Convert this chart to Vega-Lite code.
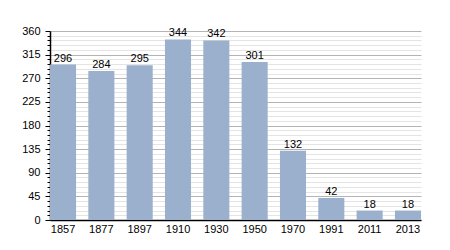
{
  "$schema": "https://vega.github.io/schema/vega-lite/v6.json",
  "autosize": {"type": "none"},
  "padding": {"left": 50, "top": 31, "right": 29, "bottom": 30},
  "width": 371,
  "height": 189,
  "background": "white",
  "data": {"values": [
    {"year": "1857", "pop": 296},
    {"year": "1877", "pop": 284},
    {"year": "1897", "pop": 295},
    {"year": "1910", "pop": 344},
    {"year": "1930", "pop": 342},
    {"year": "1950", "pop": 301},
    {"year": "1970", "pop": 132},
    {"year": "1991", "pop": 42},
    {"year": "2011", "pop": 18},
    {"year": "2013", "pop": 18}
  ]},
  "config": {
    "view": {"stroke": null},
    "font": "Liberation Sans",
    "axis": {"labelFont": "Liberation Sans", "labelFontSize": 11, "labelColor": "#000"}
  },
  "encoding": {
    "x": {
      "field": "year", "type": "ordinal", "sort": null,
      "scale": {"paddingInner": 0.32, "paddingOuter": 0},
      "axis": {"title": null, "labelAngle": 0, "ticks": false, "labelPadding": 3, "domainColor": "#000", "domainWidth": 1.5}
    },
    "y": {
      "field": "pop", "type": "quantitative",
      "scale": {"domain": [0, 360], "nice": false},
      "axis": {
        "title": null,
        "values": [0,9,18,27,36,45,54,63,72,81,90,99,108,117,126,135,144,153,162,171,180,189,198,207,216,225,234,243,252,261,270,279,288,297,306,315,324,333,342,351,360],
        "labelExpr": "datum.value % 45 === 0 ? datum.label : ''",
        "grid": true,
        "gridColor": {"condition": {"test": "datum.value % 45 === 0", "value": "#b4b4b4"}, "value": "#e4e4e4"},
        "tickSize": {"condition": {"test": "datum.value % 45 === 0", "value": 5}, "value": 3},
        "tickColor": "#000",
        "domainColor": "#000",
        "domainWidth": 1.5,
        "labelPadding": 5
      }
    }
  },
  "layer": [
    {"mark": {"type": "bar", "color": "#9ab0cc"}},
    {"mark": {"type": "text", "dy": -6, "fontSize": 11, "color": "#000", "font": "Liberation Sans"},
     "encoding": {"text": {"field": "pop", "type": "quantitative"}}}
  ]
}
